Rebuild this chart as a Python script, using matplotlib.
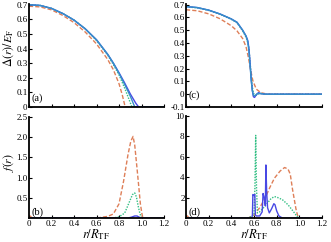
import matplotlib
matplotlib.use("Agg")
import matplotlib.pyplot as plt
import numpy as np

plt.rcParams['font.family'] = ['Liberation Serif', 'DejaVu Serif']
plt.rcParams['mathtext.fontset'] = 'stix'

# ---- Panel (a): gap profile ----
a_blue_r = [0, 0.1, 0.2, 0.3, 0.4, 0.5, 0.6, 0.7, 0.75, 0.8, 0.85, 0.9, 0.95, 0.975, 1.2]
a_blue_d = [0.70, 0.695, 0.675, 0.64, 0.595, 0.535, 0.46, 0.36, 0.30, 0.235, 0.165, 0.09, 0.025, 0.0, 0.0]
a_teal_r = [0, 0.1, 0.2, 0.3, 0.4, 0.5, 0.6, 0.7, 0.75, 0.8, 0.85, 0.9, 0.94, 1.2]
a_teal_d = [0.70, 0.695, 0.675, 0.64, 0.595, 0.535, 0.46, 0.36, 0.30, 0.23, 0.155, 0.075, 0.0, 0.0]
a_green_r = [0, 0.1, 0.2, 0.3, 0.4, 0.5, 0.6, 0.7, 0.75, 0.8, 0.85, 0.88, 0.915, 1.2]
a_green_d = [0.70, 0.695, 0.675, 0.64, 0.595, 0.535, 0.455, 0.355, 0.29, 0.22, 0.13, 0.07, 0.0, 0.0]
a_orange_r = [0, 0.1, 0.2, 0.3, 0.4, 0.5, 0.6, 0.7, 0.75, 0.8, 0.83, 0.855, 1.2]
a_orange_d = [0.69, 0.685, 0.665, 0.627, 0.578, 0.513, 0.432, 0.325, 0.255, 0.16, 0.08, 0.0, 0.0]

# ---- Panel (b): f(r) ----
b_orange_r = [0, 0.03, 0.6, 0.7, 0.75, 0.8, 0.84, 0.88, 0.905, 0.925, 0.94, 0.957, 0.975, 0.99, 1.01, 1.2]
b_orange_f = [0.07, 0.0, 0.0, 0.04, 0.1, 0.35, 0.9, 1.57, 1.9, 2.02, 1.8, 1.32, 0.8, 0.35, 0.0, 0.0]
b_green_r = [0, 0.75, 0.8, 0.85, 0.87, 0.9, 0.92, 0.94, 0.955, 0.97, 0.985, 1.0, 1.2]
b_green_f = [0.0, 0.0, 0.03, 0.12, 0.25, 0.45, 0.58, 0.62, 0.52, 0.3, 0.12, 0.0, 0.0]
b_blue_r = [0, 0.88, 0.91, 0.94, 0.96, 0.98, 1.0, 1.2]
b_blue_f = [0.0, 0.0, 0.02, 0.05, 0.05, 0.02, 0.0, 0.0]

# ---- Panel (c): gap profile ----
c_blue_r = [0, 0.1, 0.2, 0.3, 0.4, 0.45, 0.5, 0.53, 0.545, 0.555, 0.565, 0.575, 0.585, 0.595, 0.605, 0.62, 0.64, 0.66, 0.7, 1.2]
c_blue_d = [0.685, 0.677, 0.657, 0.627, 0.588, 0.562, 0.5, 0.455, 0.42, 0.36, 0.25, 0.12, 0.03, -0.02, -0.025, -0.005, 0.012, 0.005, 0.0, 0.0]
c_teal_r = [0, 0.1, 0.2, 0.3, 0.4, 0.45, 0.5, 0.53, 0.545, 0.555, 0.565, 0.575, 0.585, 0.595, 0.61, 0.63, 0.66, 0.7, 1.2]
c_teal_d = [0.685, 0.677, 0.657, 0.627, 0.588, 0.562, 0.5, 0.452, 0.41, 0.34, 0.23, 0.11, 0.03, -0.01, -0.012, 0.006, 0.004, 0.0, 0.0]
c_green_r = [0, 0.1, 0.2, 0.3, 0.4, 0.45, 0.5, 0.53, 0.55, 0.56, 0.57, 0.58, 0.59, 0.6, 0.62, 0.65, 0.7, 1.2]
c_green_d = [0.683, 0.675, 0.655, 0.625, 0.585, 0.558, 0.495, 0.445, 0.39, 0.31, 0.2, 0.1, 0.03, 0.0, -0.008, 0.008, 0.0, 0.0]
c_orange_r = [0, 0.1, 0.2, 0.3, 0.4, 0.45, 0.5, 0.53, 0.55, 0.57, 0.59, 0.62, 0.66, 0.72, 1.2]
c_orange_d = [0.66, 0.652, 0.628, 0.59, 0.535, 0.495, 0.435, 0.37, 0.29, 0.19, 0.105, 0.04, 0.012, 0.0, 0.0]

# ---- Panel (d): f(r) ----
d_orange_r = [0, 0.03, 0.55, 0.6, 0.65, 0.7, 0.74, 0.78, 0.83, 0.87, 0.9, 0.92, 0.94, 0.97, 0.99, 1.2]
d_orange_f = [0.3, 0.0, 0.0, 0.3, 1.0, 2.0, 3.0, 3.9, 4.6, 4.95, 4.8, 4.3, 2.8, 0.9, 0.0, 0.0]
d_green_r = [0, 0.55, 0.6, 0.608, 0.615, 0.622, 0.63, 0.65, 0.7, 0.75, 0.78, 0.8, 0.85, 0.9, 0.95, 0.99, 1.2]
d_green_f = [0.0, 0.0, 0.3, 3.0, 8.1, 3.0, 0.5, 0.6, 1.2, 1.9, 2.1, 2.05, 1.8, 1.3, 0.6, 0.0, 0.0]
d_blue_r = [0, 0.58, 0.586, 0.59, 0.6, 0.607, 0.612, 0.62, 0.65, 0.672, 0.68, 0.69, 0.7, 0.705, 0.712, 0.72, 0.735, 0.755, 0.775, 0.785, 0.8, 0.82, 0.85, 1.2]
d_blue_f = [0.0, 0.0, 0.3, 2.3, 2.2, 2.3, 0.3, 0.2, 0.2, 0.6, 2.4, 2.0, 1.2, 5.2, 2.5, 1.0, 0.5, 0.9, 1.4, 1.3, 0.7, 0.2, 0.0, 0.0]

x_ticks = [0, 0.2, 0.4, 0.6, 0.8, 1.0, 1.2]
x_labels = ["0", "0.2", "0.4", "0.6", "0.8", "1.0", "1.2"]
a_yticks = [0, 0.1, 0.2, 0.3, 0.4, 0.5, 0.6, 0.7]
a_ylabels = ["0", "0.1", "0.2", "0.3", "0.4", "0.5", "0.6", "0.7"]
c_yticks = [-0.1, 0, 0.1, 0.2, 0.3, 0.4, 0.5, 0.6, 0.7]
c_ylabels = ["-0.1", "0", "0.1", "0.2", "0.3", "0.4", "0.5", "0.6", "0.7"]
b_yticks = [0.5, 1.0, 1.5, 2.0, 2.5]
b_ylabels = ["0.5", "1.0", "1.5", "2.0", "2.5"]
d_yticks = [2, 4, 6, 8, 10]
d_ylabels = ["2", "4", "6", "8", "10"]

BLUE = '#4848e4'
TEAL = '#3590c8'
GREEN = '#33bf84'
ORANGE = '#de7f58'

W, H = 331, 242
fig = plt.figure(figsize=(W / 100, H / 100), dpi=100)

def box(l, r, t, b):
    return [l / W, 1 - b / H, (r - l) / W, (b - t) / H]

axa = fig.add_axes(box(29, 164, 4, 107))
axb = fig.add_axes(box(29, 164, 117, 218))
axc = fig.add_axes(box(186, 322, 4, 107))
axd = fig.add_axes(box(186, 322, 116, 218))

lw = 1.0
def style(ax):
    for s in ['top', 'right']:
        ax.spines[s].set_visible(False)
    for s in ['left', 'bottom']:
        ax.spines[s].set_linewidth(1.3)
        ax.spines[s].set_color('black')
    ax.tick_params(direction='in', length=2.5, width=0.8, labelsize=6.5, pad=1)
    ax.set_xlim(0, 1.2)
    ax.set_xticks(x_ticks)

# (a)
axa.plot(a_orange_r, a_orange_d, color=ORANGE, lw=lw, ls=(0, (3, 1.5)))
axa.plot(a_green_r, a_green_d, color=GREEN, lw=lw, ls=(0, (1, 1)))
axa.plot(a_blue_r, a_blue_d, color=BLUE, lw=lw)
axa.plot(a_teal_r, a_teal_d, color=TEAL, lw=lw)
style(axa)
axa.set_ylim(0, 0.705)
axa.set_yticks(a_yticks)
axa.set_yticklabels(a_ylabels)
axa.set_xticklabels([])
axa.set_ylabel(r'$\Delta(r)/E_{\rm F}$', fontsize=8.5)
axa.yaxis.set_label_coords(-0.1, 0.57)
axa.text(0.015, 0.04, '(a)', transform=axa.transAxes, fontsize=7.5, va='bottom')

# (b)
axb.plot(b_orange_r, b_orange_f, color=ORANGE, lw=lw, ls=(0, (3, 1.5)))
axb.plot(b_green_r, b_green_f, color=GREEN, lw=lw, ls=(0, (1, 1)))
axb.plot(b_blue_r, b_blue_f, color=BLUE, lw=lw)
style(axb)
axb.set_ylim(0, 2.5)
axb.set_yticks(b_yticks)
axb.set_yticklabels(b_ylabels)
axb.set_xticklabels(x_labels)
axb.tick_params(axis='x', pad=1.5)
axb.set_ylabel(r'$f(r)$', fontsize=8.5)
axb.yaxis.set_label_coords(-0.1, 0.55)
axb.set_xlabel(r'$r/R_{\rm TF}$', fontsize=9)
axb.xaxis.set_label_coords(0.5, -0.095)
axb.text(0.015, 0.012, '(b)', transform=axb.transAxes, fontsize=7.5, va='bottom')

# (c)
axc.plot(c_orange_r, c_orange_d, color=ORANGE, lw=lw, ls=(0, (3, 1.5)))
axc.plot(c_green_r, c_green_d, color=GREEN, lw=lw, ls=(0, (1, 1)))
axc.plot(c_blue_r, c_blue_d, color=BLUE, lw=lw)
axc.plot(c_teal_r, c_teal_d, color=TEAL, lw=lw)
style(axc)
axc.set_ylim(-0.1, 0.705)
axc.set_yticks(c_yticks)
axc.set_yticklabels(c_ylabels)
axc.set_xticklabels([])
axc.text(0.015, 0.07, '(c)', transform=axc.transAxes, fontsize=7.5, va='bottom')

# (d)
axd.plot(d_orange_r, d_orange_f, color=ORANGE, lw=lw, ls=(0, (3, 1.5)))
axd.plot(d_green_r, d_green_f, color=GREEN, lw=lw, ls=(0, (1, 1)))
axd.plot(d_blue_r, d_blue_f, color=BLUE, lw=lw)
style(axd)
axd.set_ylim(0, 10)
axd.set_yticks(d_yticks)
axd.set_yticklabels(d_ylabels)
axd.set_xticklabels(x_labels)
axd.tick_params(axis='x', pad=1.5)
axd.set_xlabel(r'$r/R_{\rm TF}$', fontsize=9)
axd.xaxis.set_label_coords(0.5, -0.095)
axd.text(0.015, 0.012, '(d)', transform=axd.transAxes, fontsize=7.5, va='bottom')

fig.savefig('out.png', dpi=100)
